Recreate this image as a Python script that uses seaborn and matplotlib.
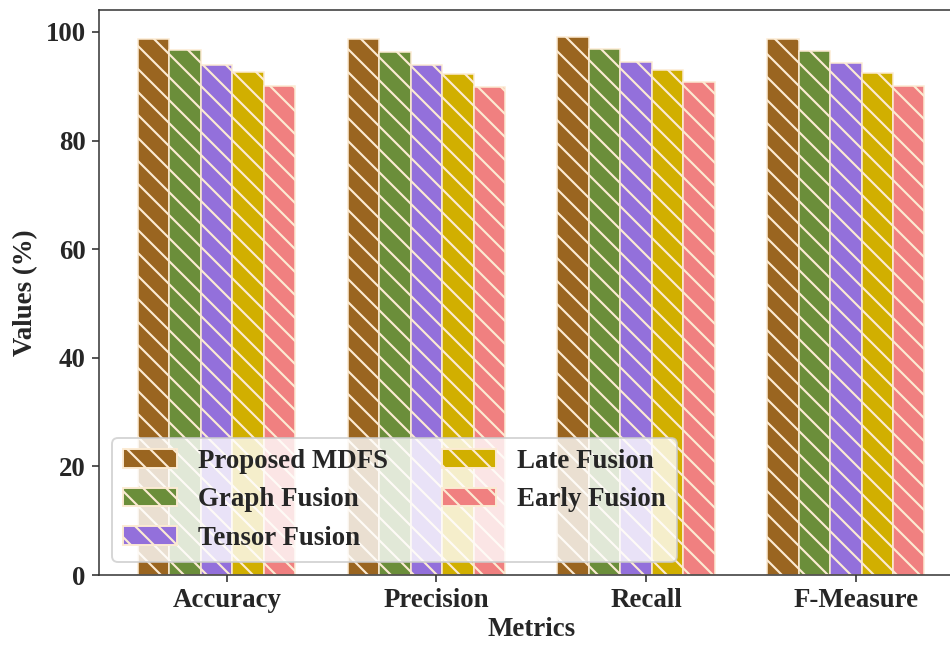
import numpy as np
import pandas as pd
import matplotlib
matplotlib.use("Agg")
import matplotlib.pyplot as plt
from matplotlib.patches import Patch
import seaborn as sns

# Scores (%) per metric for each fusion strategy
metrics = ["Accuracy", "Precision", "Recall", "F-Measure"]
methods = ["Proposed MDFS", "Graph Fusion", "Tensor Fusion", "Late Fusion", "Early Fusion"]
proposed_mdfs = [98.8, 98.8, 99.1, 98.8]
graph_fusion = [96.6, 96.3, 96.9, 96.5]
tensor_fusion = [93.9, 93.9, 94.4, 94.2]
late_fusion = [92.6, 92.3, 93.0, 92.5]
early_fusion = [90.1, 89.8, 90.7, 90.1]

colors = ["#9A6520", "#6B8E3A", "#9370DB", "#D1AF00", "#F08080"]
edge = "#FCEBD3"
hatch = "\\\\"

sns.set_style("ticks")
plt.rcParams["font.family"] = ["Liberation Serif", "DejaVu Serif"]
plt.rcParams["font.weight"] = "bold"
plt.rcParams["hatch.linewidth"] = 1.1

series = [proposed_mdfs, graph_fusion, tensor_fusion, late_fusion, early_fusion]
df = pd.DataFrame({
    "Metric": [m for vals in series for m in metrics],
    "Method": [name for name, vals in zip(methods, series) for _ in vals],
    "Value": [v for vals in series for v in vals],
})

dpi = 138
fig = plt.figure(figsize=(950 / dpi, 645 / dpi), dpi=dpi)
ax = fig.add_axes([0.1042, 0.1085, 0.910, 0.876])

sns.barplot(
    data=df, x="Metric", y="Value", hue="Method",
    order=metrics, hue_order=methods, palette=colors, saturation=1,
    errorbar=None, width=0.75, gap=0, dodge=True,
    edgecolor=edge, linewidth=0.8,
    legend=False, ax=ax,
)
for p in ax.patches:
    p.set_hatch(hatch)
    p.set_edgecolor(edge)

ax.set_xlim(-0.561, 3.561)
ax.set_ylim(0, 104.05)
ax.set_xticks(np.arange(len(metrics)) + 0.048)
ax.set_xticklabels(metrics, fontsize=14, fontweight="bold")
ax.set_yticks([0, 20, 40, 60, 80, 100])
ax.set_yticklabels(["0", "20", "40", "60", "80", "100"], fontsize=14, fontweight="bold")
ax.set_xlabel("Metrics", fontsize=14, fontweight="bold", labelpad=2)
ax.set_ylabel("Values (%)", fontsize=14, fontweight="bold")
for s in ax.spines.values():
    s.set_visible(True)
    s.set_color("#333333")

handles = [Patch(facecolor=c, edgecolor=edge, hatch=hatch, label=m)
           for c, m in zip(colors, methods)]
leg = ax.legend(handles=handles, loc="lower left", ncol=2,
                prop={"size": 14, "weight": "bold"}, frameon=True,
                framealpha=0.8)
leg.get_frame().set_edgecolor("0.8")

fig.savefig("out.png", dpi=dpi)
